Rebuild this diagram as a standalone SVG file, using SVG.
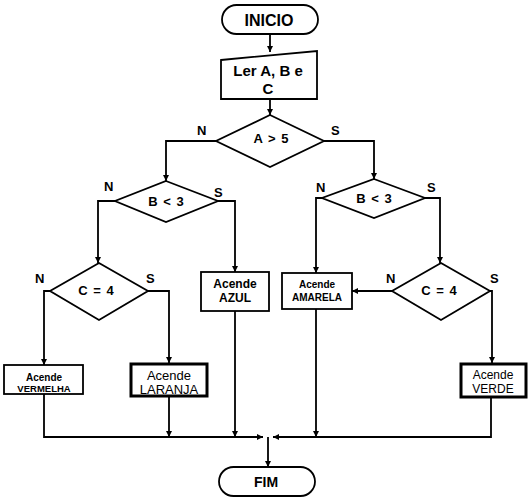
<svg xmlns="http://www.w3.org/2000/svg" width="529" height="501" viewBox="0 0 529 501">
<defs>
<marker id="ar" viewBox="0 0 8 8" refX="8" refY="4" markerWidth="6" markerHeight="6" markerUnits="userSpaceOnUse" orient="auto">
<path d="M0,0 L8,4 L0,8 Z" fill="#000"/>
</marker>
<style>
.s{fill:#fff;stroke:#000;stroke-width:1.8}
.t{fill:#fff;stroke:#000;stroke-width:3}
.c{fill:none;stroke:#000;stroke-width:1.8}
.b{font-family:"Liberation Sans",Arial,sans-serif;font-weight:bold;font-size:13px;text-anchor:middle;fill:#000}
.d{font-family:"Liberation Sans",Arial,sans-serif;font-weight:bold;font-size:13px;word-spacing:2px;text-anchor:middle;fill:#000}
.m{font-family:"Liberation Sans",Arial,sans-serif;font-weight:bold;font-size:10px;text-anchor:middle;fill:#000}
.r{font-family:"Liberation Sans",Arial,sans-serif;font-size:13px;text-anchor:middle;fill:#000}
.l{font-family:"Liberation Sans",Arial,sans-serif;font-weight:bold;font-size:13px;fill:#000}
</style>
</defs>
<rect width="529" height="501" fill="#fff"/>
<g id="connectors">
<path class="c" d="M270,34 V52" marker-end="url(#ar)"/>
<path class="c" d="M270,99 V115" marker-end="url(#ar)"/>
<path class="c" d="M216,141 H166 V181" marker-end="url(#ar)"/>
<path class="c" d="M324,141 H374 V179" marker-end="url(#ar)"/>
<path class="c" d="M115,201 H98 V263" marker-end="url(#ar)"/>
<path class="c" d="M218,201 H235 V272" marker-end="url(#ar)"/>
<path class="c" d="M322,198 H316 V273" marker-end="url(#ar)"/>
<path class="c" d="M425,198 H440 V263" marker-end="url(#ar)"/>
<path class="c" d="M50,291 H44 V365" marker-end="url(#ar)"/>
<path class="c" d="M148,291 H169 V363" marker-end="url(#ar)"/>
<path class="c" d="M392,291 H352" marker-end="url(#ar)"/>
<path class="c" d="M490,291 H492 V363" marker-end="url(#ar)"/>
<path class="c" d="M44,394 V437 H263" marker-end="url(#ar)"/>
<path class="c" d="M169,396 V437" marker-end="url(#ar)"/>
<path class="c" d="M235,311 V437" marker-end="url(#ar)"/>
<path class="c" d="M316,309 V437" marker-end="url(#ar)"/>
<path class="c" d="M491,397 V437 H273" marker-end="url(#ar)"/>
<path class="c" d="M268,437 V467" marker-end="url(#ar)"/>
</g>
<g id="inicio">
<rect class="s" x="222" y="5" width="96" height="29" rx="14.5"/>
<text class="b" x="269" y="25.5" style="font-size:16px">INICIO</text>
</g>
<g id="ler">
<path class="s" d="M221,60 L317,51 V99 H221 Z"/>
<text class="b" x="268" y="75.5" style="font-size:15px">Ler A, B e</text>
<text class="b" x="268" y="94" style="font-size:15px">C</text>
</g>
<g id="a5">
<path class="s" d="M270,115 L324,141 L270,167 L216,141 Z"/>
<text class="d" x="271" y="143">A &gt; 5</text>
<text class="l" x="197" y="135">N</text>
<text class="l" x="331" y="135">S</text>
</g>
<g id="b3l">
<path class="s" d="M166,181 L218,201 L166,222 L115,201 Z"/>
<text class="d" x="166" y="206">B &lt; 3</text>
<text class="l" x="104" y="191">N</text>
<text class="l" x="214" y="197">S</text>
</g>
<g id="b3r">
<path class="s" d="M374,179 L425,198 L374,218 L322,198 Z"/>
<text class="d" x="374" y="203">B &lt; 3</text>
<text class="l" x="316" y="192">N</text>
<text class="l" x="427" y="192">S</text>
</g>
<g id="c4l">
<path class="s" d="M99,263 L148,291 L99,320 L50,291 Z"/>
<text class="d" x="96" y="295">C = 4</text>
<text class="l" x="35" y="283">N</text>
<text class="l" x="146" y="283">S</text>
</g>
<g id="c4r">
<path class="s" d="M441,263 L490,291 L441,320 L392,291 Z"/>
<text class="d" x="439" y="295">C = 4</text>
<text class="l" x="386" y="283">N</text>
<text class="l" x="490" y="283">S</text>
</g>
<g id="vermelha">
<rect class="s" x="4" y="365" width="79" height="29"/>
<text class="m" x="44" y="381">Acende</text>
<text class="m" x="44" y="392" style="font-size:9.5px">VERMELHA</text>
</g>
<g id="laranja">
<rect class="t" x="131" y="364" width="76" height="32"/>
<text class="r" x="169" y="380">Acende</text>
<text class="r" x="169" y="394">LARANJA</text>
</g>
<g id="azul">
<rect class="s" x="201" y="272" width="68" height="39"/>
<text class="m" x="235" y="288" style="font-size:12px">Acende</text>
<text class="m" x="235" y="302" style="font-size:12px">AZUL</text>
</g>
<g id="amarela">
<rect class="s" x="282" y="273" width="70" height="36"/>
<text class="m" x="317" y="288">Acende</text>
<text class="m" x="317" y="301">AMARELA</text>
</g>
<g id="verde">
<rect class="t" x="461" y="364" width="65" height="33"/>
<text class="r" x="493" y="379" style="font-size:12px">Acende</text>
<text class="r" x="493" y="393" style="font-size:12px">VERDE</text>
</g>
<g id="fim">
<rect class="s" x="219" y="467" width="96" height="29" rx="14.5"/>
<text class="b" x="266" y="487" style="font-size:14px">FIM</text>
</g>
</svg>
